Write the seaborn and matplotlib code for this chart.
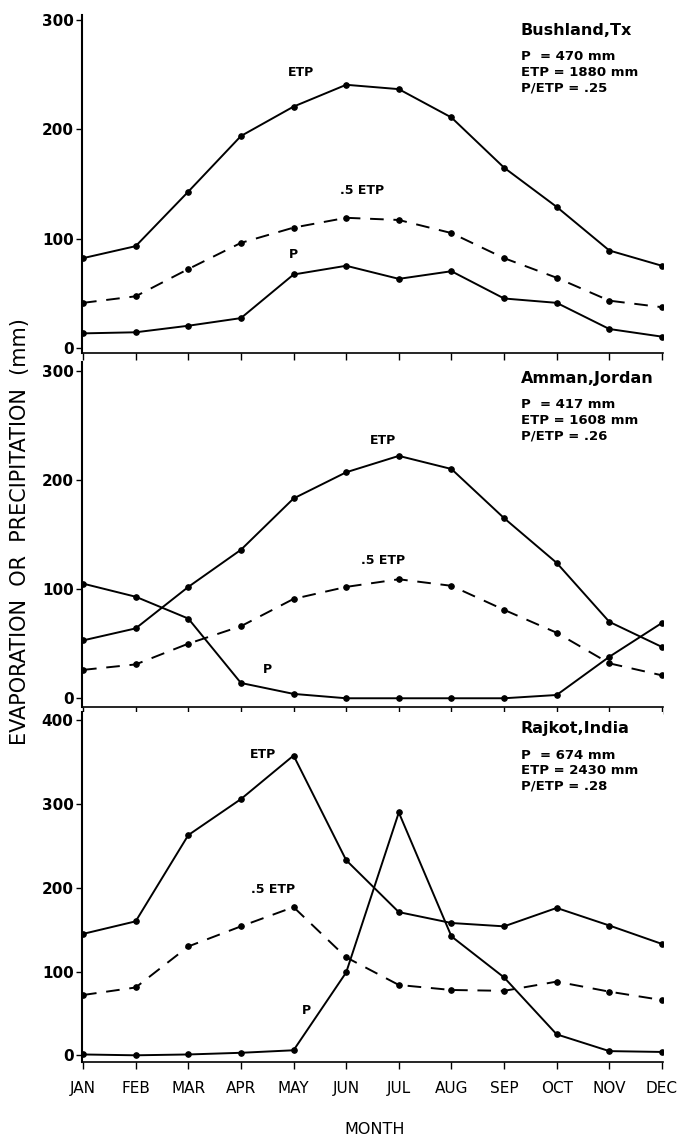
import matplotlib
matplotlib.use("Agg")
import matplotlib.pyplot as plt
import pandas as pd
import seaborn as sns

# ==========================================
# DATA
# ==========================================
MONTHS = ["JAN", "FEB", "MAR", "APR", "MAY", "JUN",
          "JUL", "AUG", "SEP", "OCT", "NOV", "DEC"]

# Bushland, Tx
bush_etp = [82, 93, 143, 194, 221, 241, 237, 211, 165, 129, 89, 75]
bush_half = [41, 47, 72, 96, 110, 119, 117, 105, 82, 64, 43, 37]
bush_p = [13, 14, 20, 27, 67, 75, 63, 70, 45, 41, 17, 10]

# Amman, Jordan
amman_etp = [53, 64, 102, 136, 183, 207, 222, 210, 165, 124, 70, 47]
amman_half = [26, 31, 50, 66, 91, 102, 109, 103, 81, 60, 32, 21]
amman_p = [105, 93, 73, 14, 4, 0, 0, 0, 0, 3, 38, 69]

# Rajkot, India
rajkot_etp = [145, 160, 263, 306, 358, 233, 171, 158, 154, 176, 155, 133]
rajkot_half = [72, 81, 130, 154, 177, 117, 84, 78, 77, 88, 76, 66]
rajkot_p = [1, 0, 1, 3, 6, 99, 290, 142, 93, 25, 5, 4]

STATIONS = ["Bushland,Tx", "Amman,Jordan", "Rajkot,India"]
STATS = [
    "P  = 470 mm\nETP = 1880 mm\nP/ETP = .25",
    "P  = 417 mm\nETP = 1608 mm\nP/ETP = .26",
    "P  = 674 mm\nETP = 2430 mm\nP/ETP = .28",
]
SERIES = [
    (bush_etp, bush_half, bush_p),
    (amman_etp, amman_half, amman_p),
    (rajkot_etp, rajkot_half, rajkot_p),
]
YTICKS = [[0, 100, 200, 300], [0, 100, 200, 300], [0, 100, 200, 300, 400]]
YLIMS = [(-5, 305), (-8, 308), (-8, 410)]

# curve label positions (month index, value)
LABELS = [
    [("ETP", 4.15, 246), (".5 ETP", 5.3, 138), ("P", 4.0, 79)],
    [("ETP", 5.7, 230), (".5 ETP", 5.7, 120), ("P", 3.5, 20)],
    [("ETP", 3.42, 352), (".5 ETP", 3.62, 190), ("P", 4.25, 46)],
]

# ==========================================
# STYLE
# ==========================================
sns.set_style("ticks")
plt.rcParams["font.family"] = ["DejaVu Sans"]
plt.rcParams.update({
    "text.color": "black",
    "axes.labelcolor": "black",
    "axes.edgecolor": "black",
    "xtick.color": "black",
    "ytick.color": "black",
})

fig = plt.figure(figsize=(6.81, 11.48), dpi=100)
W, H = 681.0, 1148.0
left, right = 82 / W, 663 / W
panels_px = [(15, 353), (362, 707), (712, 1062)]

for i, (top_px, bot_px) in enumerate(panels_px):
    ax = fig.add_axes([left, 1 - bot_px / H, right - left, (bot_px - top_px) / H])
    etp, half, p = SERIES[i]
    df = pd.DataFrame({
        "Month": MONTHS * 3,
        "Value": etp + half + p,
        "Series": ["ETP"] * 12 + [".5 ETP"] * 12 + ["P"] * 12,
    })
    df["idx"] = df["Month"].map({m: k for k, m in enumerate(MONTHS)})
    for name, ls in [("ETP", "-"), (".5 ETP", (0, (7, 5))), ("P", "-")]:
        sub = df[df["Series"] == name]
        sns.lineplot(data=sub, x="idx", y="Value", ax=ax, color="black",
                     linewidth=1.4, linestyle=ls, marker="o", markersize=4,
                     markeredgecolor="black", sort=False, legend=False)

    ax.set_xlim(-0.02, 11.02)
    ax.set_ylim(*YLIMS[i])
    ax.set_yticks(YTICKS[i])
    ax.set_xticks(range(12))
    if i == 2:
        ax.set_xticklabels(MONTHS, fontsize=11)
    else:
        ax.set_xticklabels([])
    ax.tick_params(axis="y", labelsize=11, length=4, width=1, pad=2)
    ax.tick_params(axis="x", length=5, width=1, pad=9)
    for lab in ax.get_yticklabels():
        lab.set_fontweight("bold")
    ax.set_xlabel("")
    ax.set_ylabel("")
    sns.despine(ax=ax)
    ax.spines["left"].set_linewidth(1.5)
    ax.spines["bottom"].set_linewidth(1.2)

    for txt, xv, yv in LABELS[i]:
        ax.text(xv, yv, txt, ha="center", va="bottom", fontsize=9,
                fontweight="bold")

    ax.text(0.755, 0.975, STATIONS[i], transform=ax.transAxes, ha="left",
            va="top", fontsize=11.5, fontweight="bold")
    ax.text(0.755, 0.895, STATS[i], transform=ax.transAxes, ha="left",
            va="top", fontsize=9.5, fontweight="bold", linespacing=1.25)

fig.text(20 / W, 1 - 532 / H, "EVAPORATION  OR  PRECIPITATION  (mm)",
         rotation=90, ha="center", va="center", fontsize=15)
fig.text(375 / W, 1 - 1130 / H, "MONTH", ha="center", va="center",
         fontsize=11.5)

plt.savefig("out.png", dpi=100)
